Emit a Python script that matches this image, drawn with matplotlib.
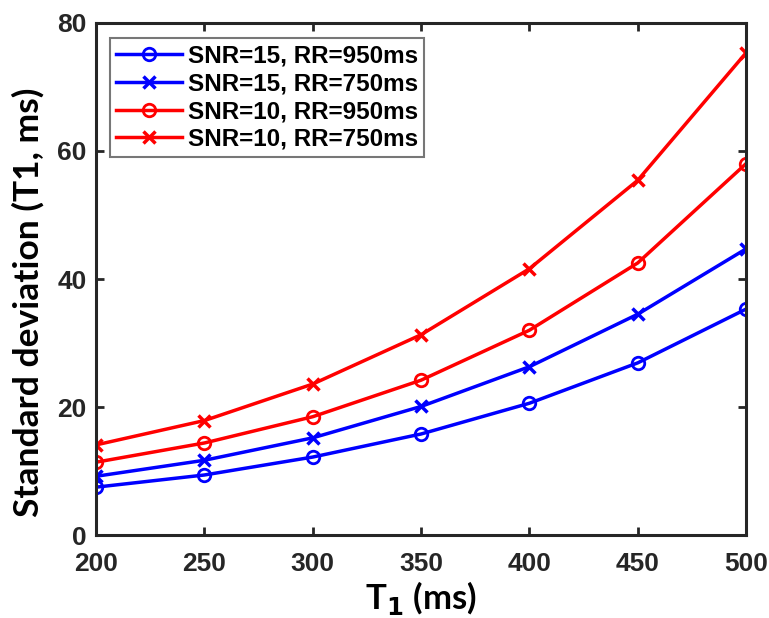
import matplotlib
matplotlib.use("Agg")
from matplotlib import pyplot as plt

t1 = [200, 250, 300, 350, 400, 450, 500]
snr15_rr950 = [7.5, 9.4, 12.2, 15.8, 20.6, 26.9, 35.3]
snr15_rr750 = [9.2, 11.7, 15.2, 20.1, 26.3, 34.5, 44.7]
snr10_rr950 = [11.4, 14.4, 18.5, 24.2, 32.0, 42.5, 58.0]
snr10_rr750 = [14.1, 17.9, 23.6, 31.3, 41.6, 55.4, 75.3]

plt.rcParams["font.family"] = ["Liberation Sans", "DejaVu Sans"]
plt.rcParams["font.weight"] = "bold"

fig = plt.figure(figsize=(7.69, 6.18), dpi=100)
ax = fig.add_axes([0.125, 0.134, 0.845, 0.829])

ax.plot(t1, snr15_rr950, color="#0000ff", marker="o", mfc="none", ms=9, mew=2, lw=2.5, label="SNR=15, RR=950ms")
ax.plot(t1, snr15_rr750, color="#0000ff", marker="x", ms=9, mew=2.5, lw=2.5, label="SNR=15, RR=750ms")
ax.plot(t1, snr10_rr950, color="#ff0000", marker="o", mfc="none", ms=9, mew=2, lw=2.5, label="SNR=10, RR=950ms")
ax.plot(t1, snr10_rr750, color="#ff0000", marker="x", ms=9, mew=2.5, lw=2.5, label="SNR=10, RR=750ms")

ax.set_xlim(200, 500)
ax.set_ylim(0, 80)
ax.set_xticks(range(200, 501, 50))
ax.set_yticks(range(0, 81, 20))
ax.tick_params(direction="in", top=True, right=True, length=6, width=2, labelsize=19, colors="#262626")
ax.tick_params(axis="x", pad=12)
ax.tick_params(axis="y", pad=7)
for s in ax.spines.values():
    s.set_linewidth(2.2)
    s.set_color("#262626")

ax.set_xlabel("T$_\\mathbf{1}$ (ms)", fontsize=25, family=["Lato", "DejaVu Sans"], fontweight="bold", labelpad=2)
ax.set_ylabel("Standard deviation (T1, ms)", fontsize=25.5, family=["Lato", "DejaVu Sans"], fontweight="bold")
ax.yaxis.set_label_coords(-0.08, 0.455)

leg = ax.legend(loc="upper left", fontsize=17.5, fancybox=False, edgecolor="#555555",
                handlelength=2.7, borderpad=0.25, labelspacing=0.2, handletextpad=0.25,
                borderaxespad=0, bbox_to_anchor=(0.022, 0.97))
leg.get_frame().set_linewidth(1.5)

fig.savefig("out.png", dpi=100)
